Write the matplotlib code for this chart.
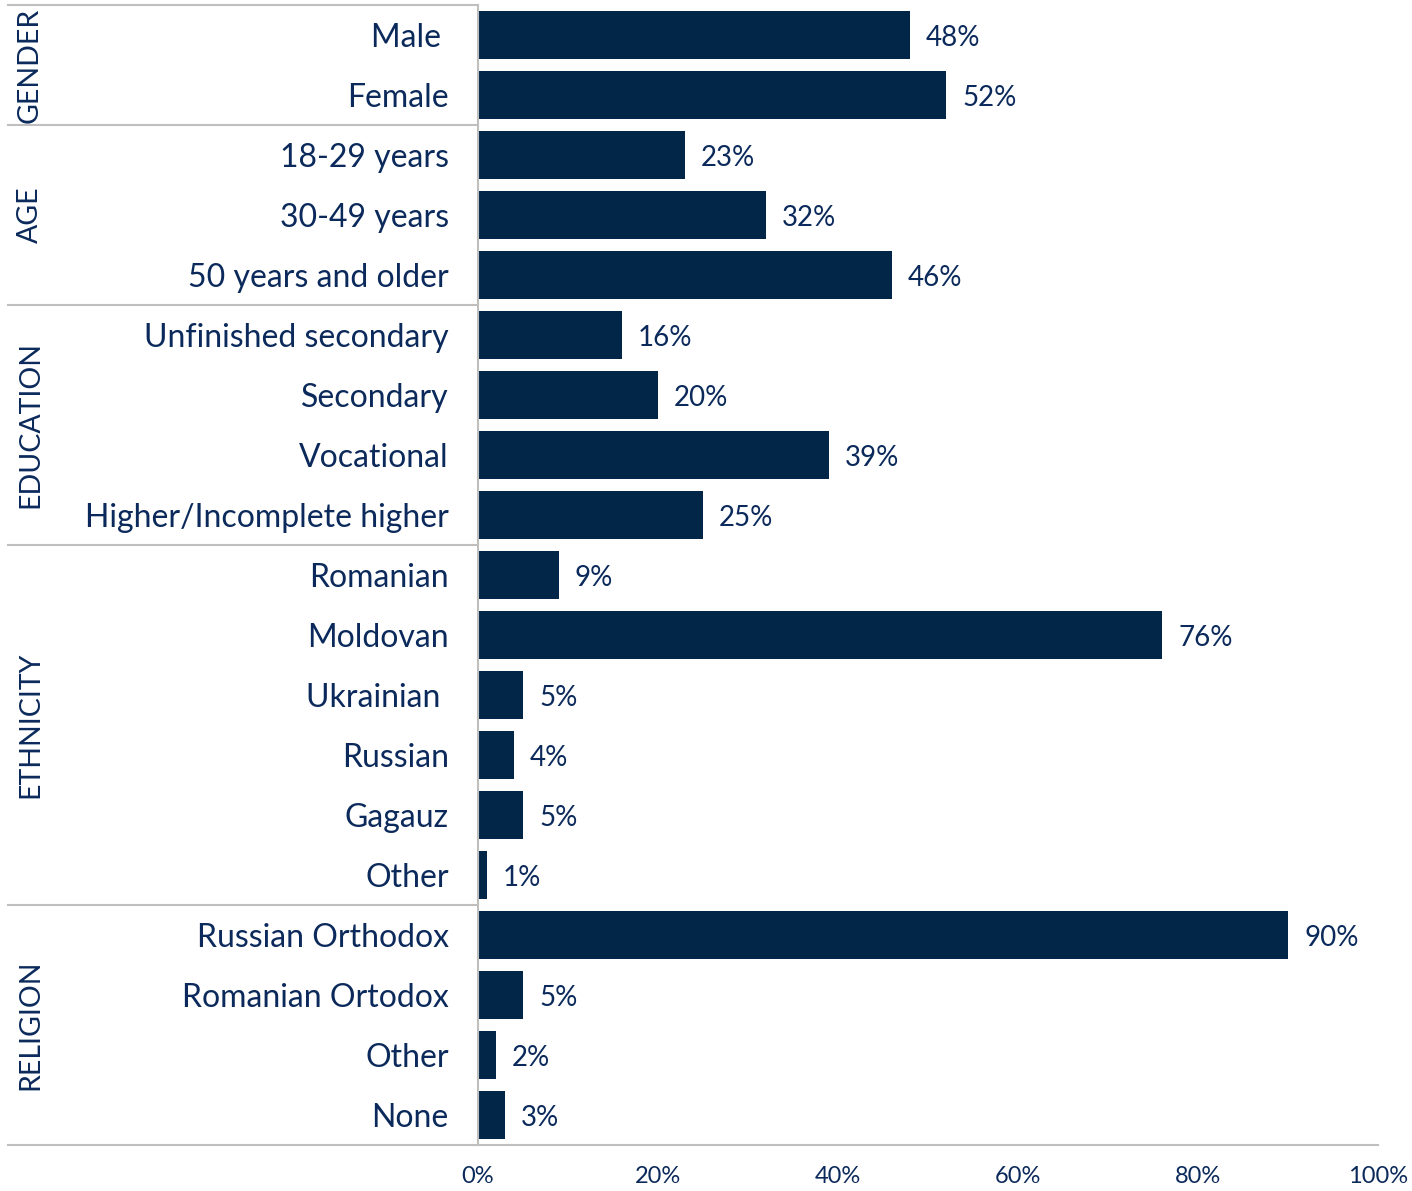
import matplotlib
matplotlib.use("Agg")
import matplotlib.pyplot as plt
from matplotlib.transforms import blended_transform_factory

plt.rcParams['font.family'] = ['Lato', 'DejaVu Sans']

groups = ["GENDER", "AGE", "EDUCATION", "ETHNICITY", "RELIGION"]
group_sizes = [2, 3, 4, 6, 4]
categories = ["Male ", "Female",
              "18-29 years", "30-49 years", "50 years and older",
              "Unfinished secondary", "Secondary", "Vocational", "Higher/Incomplete higher",
              "Romanian", "Moldovan", "Ukrainian ", "Russian", "Gagauz", "Other",
              "Russian Orthodox", "Romanian Ortodox", "Other", "None"]
values = [48, 52, 23, 32, 46, 16, 20, 39, 25, 9, 76, 5, 4, 5, 1, 90, 5, 2, 3]
xticks = [0, 20, 40, 60, 80, 100]

bar_color = "#022648"
text_color = "#0B2A5B"
line_color = "#BFBFBF"

W, H = 1412, 1191
fig = plt.figure(figsize=(W / 100, H / 100), dpi=100)
ax = fig.add_axes([478 / W, 1 - 1145 / H, 900 / W, 1140 / H])

n = len(categories)
ypos = list(range(n))
ax.barh(ypos, values, height=0.8, color=bar_color)
ax.set_ylim(n - 0.5, -0.5)
ax.set_xlim(0, 100)

for y, v in zip(ypos, values):
    ax.annotate(f"{v}%", (v, y), xytext=(16, -3), textcoords="offset pixels",
                va="center", ha="left", fontsize=20, color=text_color)

ax.set_yticks(ypos)
ax.set_yticklabels(categories, fontsize=23, color=text_color)
ax.tick_params(axis="y", length=0, pad=21)
ax.set_xticks(xticks)
ax.set_xticklabels([f"{t}%" for t in xticks], fontsize=17, color=text_color)
ax.tick_params(axis="x", length=0, pad=15)

for s in ["top", "right", "bottom"]:
    ax.spines[s].set_visible(False)
ax.spines["left"].set_color(line_color)
ax.spines["left"].set_linewidth(1.5)

# separators
trans = blended_transform_factory(fig.transFigure, ax.transData)
x0 = 8 / W
x_axis = 478 / W
bounds = [-0.5]
c = -0.5
for s in group_sizes:
    c += s
    bounds.append(c)
for b in bounds[:-1]:
    ax.plot([x0, x_axis], [b, b], transform=trans, color=line_color, lw=1.5, clip_on=False)
ax.plot([x0, 1378 / W], [bounds[-1], bounds[-1]], transform=trans, color=line_color, lw=1.5, clip_on=False)

for g, a, b in zip(groups, bounds[:-1], bounds[1:]):
    ax.text(30 / W, (a + b) / 2, g, transform=trans, rotation=90, ha="center", va="center",
            fontsize=20.5, color=text_color)

fig.savefig("out.png", dpi=100)
